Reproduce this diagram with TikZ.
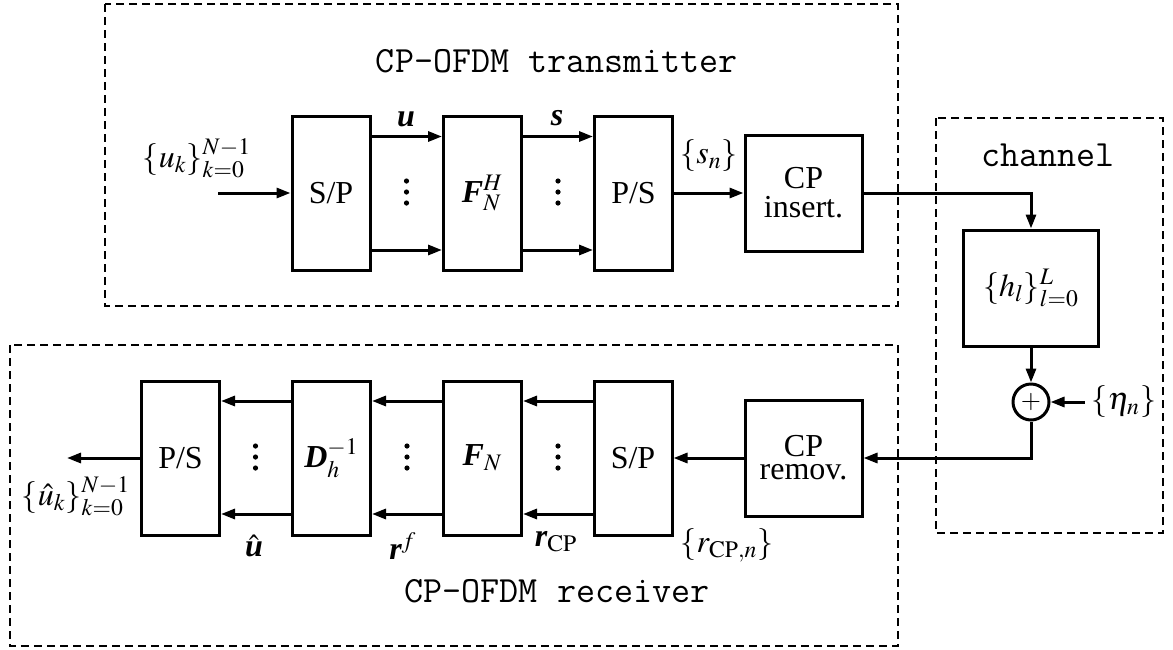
\documentclass[tikz,border=0pt]{standalone}
\usepackage{mathptmx}
\usepackage[no-math]{fontspec}
\setmainfont{Liberation Serif}
\usetikzlibrary{arrows.meta,calc}
\newcommand{\bivar}[1]{\mbox{\bfseries\itshape #1}}
\newcommand{\vdotsat}[1]{\fill ($#1+(0,-11)$) circle (1.3pt) ($#1$) circle (1.3pt) ($#1+(0,11)$) circle (1.3pt);}
\begin{document}
\begin{tikzpicture}[x=0.5pt,y=-0.5pt,
  every node/.style={font=\fontsize{16}{19}\selectfont},
  tall/.style={draw,line width=1.5pt,minimum width=39pt,minimum height=77pt,inner sep=0pt},
  cpbox/.style={draw,line width=1.5pt,minimum width=58.5pt,minimum height=58pt,inner sep=0pt,align=center},
  arr/.style={-{Triangle[length=7pt,width=5pt]},line width=1.5pt},
  dbox/.style={draw,line width=1pt,dash pattern=on 4pt off 2.5pt},
  ttl/.style={font=\fontsize{18.5}{22}\selectfont\ttfamily}]
\useasboundingbox (0,0) rectangle (1173,649);
% containers
\draw[dbox] (105,4) rectangle (898,306);
\draw[dbox] (10,345) rectangle (898,646);
\draw[dbox] (936,118) rectangle (1163,533);
\node[ttl] (ttx) at (557,61) {CP-OFDM transmitter};
\node[ttl] (trx) at (557,591) {CP-OFDM receiver};
\node[ttl] (tch) at (1048,155) {channel};
% transmitter
\node[tall] (SPt) at (331,193) {S/P};
\node[tall] (FH) at (482.5,193) {$\bivar{F}_N^H$};
\node[tall] (PSt) at (633.5,193) {P/S};
\node[cpbox] (CPi) at (803.5,193) {CP\\[-4.5pt]insert.};
% receiver
\node[tall] (PSr) at (180.5,458) {P/S};
\node[tall] (Dr) at (331.5,458) {$\bivar{D}_h^{-1}$};
\node[tall] (FN) at (482.5,458) {$\bivar{F}_N$};
\node[tall] (SPr) at (633,458) {S/P};
\node[cpbox] (CPr) at (803.5,458) {CP\\[-7.5pt]remov.};
% channel
\node[draw,line width=1.5pt,minimum width=67.5pt,minimum height=58pt,inner sep=0pt] (H) at (1031,288) {$\{h_l\}_{l=0}^L$};
\node[circle,draw,line width=1.5pt,minimum size=18pt,inner sep=0pt] (plus) at (1031,402) {\fontsize{13}{13}\selectfont$+$};
\node (eta) at (1124,402) {$\{\eta_n\}$};
% dots
\vdotsat{(406.5,192)}
\vdotsat{(558,192)}
\vdotsat{(255.5,457)}
\vdotsat{(407,457)}
\vdotsat{(558,457)}
% labels
\node (lu) at (197,158) {$\{u_k\}_{k=0}^{N-1}$};
\node (lvu) at (406,119) {\bivar{u}};
\node (lvs) at (557,118) {\bivar{s}};
\node (lsn) at (709,156) {$\{s_n\}$};
\node (luh) at (76,496) {$\{\hat{u}_k\}_{k=0}^{N-1}$};
\node (lvuh) at (254,546) {$\hat{\bivar{u}}$};
\node (lrf) at (403,546) {$\bivar{r}^f$};
\node (lrcp) at (556,542) {$\bivar{r}_{\mathrm{CP}}$};
\node (lrcpn) at (727,545) {$\{r_{\mathrm{CP},n}\}$};
\coordinate (in) at (218,193);
\coordinate (out) at (67,458);
% transmitter connectors
\draw[arr] (in) -- (SPt.west);
\draw[arr] ([yshift=28.25pt]SPt.east) -- ([yshift=28.25pt]FH.west);
\draw[arr] ([yshift=-28.5pt]SPt.east) -- ([yshift=-28.5pt]FH.west);
\draw[arr] ([yshift=28.25pt]FH.east) -- ([yshift=28.25pt]PSt.west);
\draw[arr] ([yshift=-28.5pt]FH.east) -- ([yshift=-28.5pt]PSt.west);
\draw[arr] (PSt.east) -- (CPi.west);
% channel connectors
\draw[arr] (CPi.east) -| (H.north);
\draw[arr] (H.south) -- (plus.north);
\draw[arr] (eta.west) -- (plus.east);
\draw[arr] (plus.south) |- (CPr.east);
% receiver connectors
\draw[arr] (CPr.west) -- (SPr.east);
\draw[arr] ([yshift=28.5pt]SPr.west) -- ([yshift=28.5pt]FN.east);
\draw[arr] ([yshift=-28pt]SPr.west) -- ([yshift=-28pt]FN.east);
\draw[arr] ([yshift=28.5pt]FN.west) -- ([yshift=28.5pt]Dr.east);
\draw[arr] ([yshift=-28pt]FN.west) -- ([yshift=-28pt]Dr.east);
\draw[arr] ([yshift=28.5pt]Dr.west) -- ([yshift=28.5pt]PSr.east);
\draw[arr] ([yshift=-28pt]Dr.west) -- ([yshift=-28pt]PSr.east);
\draw[arr] (PSr.west) -- (out);
\end{tikzpicture}
\end{document}
